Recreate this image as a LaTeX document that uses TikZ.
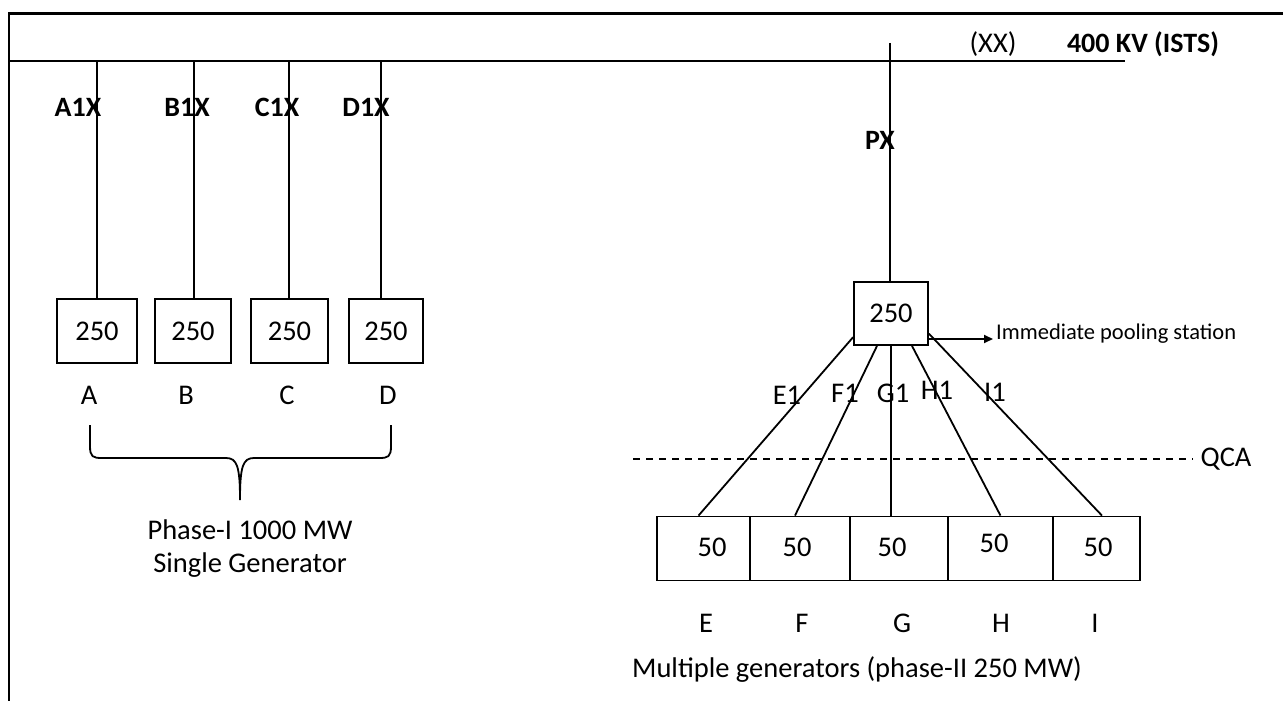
\documentclass[tikz,border=0pt]{standalone}
\usepackage{fontspec}
\setmainfont{Carlito}
\usetikzlibrary{calc,arrows.meta}
\begin{document}
\begin{tikzpicture}[x=1pt,y=-1pt,
  every node/.style={font=\fontsize{28.5}{32}\selectfont, inner sep=0pt},
  wire/.style={line width=1.8pt},
  frameline/.style={line width=2.6pt},
  genbox/.style={draw, line width=1.8pt, minimum height=64pt},
  unitbox/.style={draw, line width=1.8pt, minimum height=64pt},
  boldlbl/.style={font=\fontsize{28}{32}\selectfont\bfseries},
  smalllbl/.style={font=\fontsize{22.5}{26}\selectfont}]
\useasboundingbox (0,0) rectangle (1283,701);
% frame
\draw[frameline] (9,701) -- (9,13.5) -- (1283,13.5);
% bus
\coordinate (busL) at (10,61);
\coordinate (busR) at (1125,61);
\draw[wire] (busL) -- (busR);
\node[boldlbl] at (1143,44) {400 KV (ISTS)};
\node at (993,44) {(XX)};
% Phase I boxes
\node[unitbox, minimum width=80pt] (A) at (97,331) {250};
\node[unitbox, minimum width=76pt] (B) at (193,331) {250};
\node[unitbox, minimum width=77pt] (C) at (289.5,331) {250};
\node[unitbox, minimum width=74pt] (D) at (386,331) {250};
\coordinate (tA) at (97,61);
\coordinate (tB) at (194,61);
\coordinate (tC) at (289,61);
\coordinate (tD) at (381,61);
\draw[wire] (tA) -- (tA |- A.north);
\draw[wire] (tB) -- (tB |- B.north);
\draw[wire] (tC) -- (tC |- C.north);
\draw[wire] (tD) -- (tD |- D.north);
\node[boldlbl] (lA) at (78,107) {A1X};
\node[boldlbl] (lB) at (187,107) {B1X};
\node[boldlbl] (lC) at (277,107) {C1X};
\node[boldlbl] (lD) at (366,107) {D1X};
\node (nA) at (89,395) {A};
\node (nB) at (186,395) {B};
\node (nC) at (287,395) {C};
\node (nD) at (388,395) {D};
% brace
\draw[wire] (90,425) -- (90,446) .. controls (90,457) and (93,458) .. (102,458)
  -- (226,458) .. controls (237,458) and (240,466) .. (240,500)
  .. controls (240,466) and (243,458) .. (254,458)
  -- (379,458) .. controls (388,458) and (391,457) .. (391,446) -- (391,425);
\node (p1) at (250,530) {Phase-I 1000 MW};
\node (p2) at (250,565) {Single Generator};
% Phase II
\node[unitbox, minimum width=74pt, minimum height=63pt] (P) at (891,313.5) {250};
\coordinate (pxTop) at (890,43);
\draw[wire] (pxTop) -- (pxTop |- P.north);
\node[boldlbl] (lP) at (880,140) {PX};
\coordinate (arrEnd) at (993,339);
\draw[wire,-{Triangle[length=9pt,width=8pt]}] (P.east |- arrEnd) -- (arrEnd);
\node[smalllbl, anchor=west] (ips) at (996,334) {Immediate pooling station};
% generator row
\node[genbox, minimum width=93pt] (E) at (703.5,548.5) {};
\node[genbox, minimum width=100pt] (F) at (800,548.5) {};
\node[genbox, minimum width=98pt] (G) at (899,548.5) {};
\node[genbox, minimum width=105pt] (H) at (1000.5,548.5) {};
\node[genbox, minimum width=87pt] (I) at (1096.5,548.5) {};
\node at (712,547) {50};
\node at (797,547) {50};
\node at (892,547) {50};
\node at (994,543) {50};
\node at (1098,547) {50};
% feeders
\draw[wire] (P.212) -- ($(E.north)+(-5,0)$);
\draw[wire] ($(P.south)+(-14,0)$) -- ($(F.north)+(-5,0)$);
\draw[wire] (P.south) -- (P.south |- G.north);
\draw[wire] ($(P.south)+(21,0)$) -- ($(H.north)+(0,0)$);
\draw[wire] (P.-28) -- ($(I.north)+(5.5,0)$);
\node (e1) at (787,395) {E1};
\node (f1) at (845,393) {F1};
\node (g1) at (893,393) {G1};
\node (h1) at (937,390) {H1};
\node (i1) at (995,392) {I1};
% QCA
\coordinate (qL) at (633,459);
\coordinate (qR) at (1193,459);
\draw[line width=1.2pt, dash pattern=on 7pt off 6pt] (qL) -- (qR);
\node (qca) at (1226,459) {QCA};
% labels below
\node (nE) at (706,623) {E};
\node (nF) at (802,623) {F};
\node (nG) at (902,623) {G};
\node (nH) at (1001,623) {H};
\node (nI) at (1095,623) {I};
\node (mg) at (857,670) {Multiple generators (phase-II 250 MW)};
\end{tikzpicture}
\end{document}
